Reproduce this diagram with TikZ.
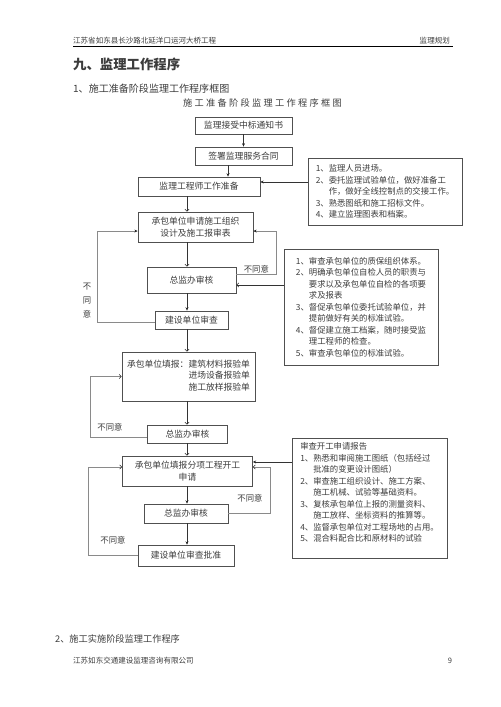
\documentclass[tikz,border=0pt]{standalone}
\usepackage{fontspec}
\setmainfont{Noto Sans CJK SC}
\usetikzlibrary{arrows.meta}
\definecolor{boxgray}{HTML}{505050}
\definecolor{loopgray}{HTML}{8A8A8A}
\definecolor{txtgray}{HTML}{3C3C3C}
\newcommand{\boxfont}{\fontsize{10.5}{13.8}\selectfont}
\newcommand{\notefont}{\fontsize{10}{13.8}\selectfont}
\begin{document}
\begin{tikzpicture}[x=0.042cm, y=-0.042cm, text=txtgray,
  box/.style={draw=boxgray, line width=0.8pt, inner sep=1pt, align=center, font=\boxfont},
  notebox/.style={box, align=left, font=\notefont},
  arr/.style={draw=black!80, line width=0.7pt, -{Stealth[length=4pt,width=3.5pt,color=black!85]}},
  oarr/.style={draw=black!80, line width=0.7pt, -{Straight Barb[length=2.5pt,width=5pt,color=black!85]}},
  back/.style={draw=loopgray},
  lbl/.style={font=\fontsize{10}{11}\selectfont, inner sep=1pt},
  plain/.style={inner sep=0pt, anchor=west}]
\useasboundingbox (0,0) rectangle (500,707);
% header
\node[plain, font=\fontsize{9}{10}\selectfont] (head) at (73,41) {江苏省如东县长沙路北延洋口运河大桥工程};
\node[plain, anchor=east, font=\fontsize{9}{10}\selectfont] (plan) at (450,41) {监理规划};
\draw[line width=0.6pt] (73,46) -- (453,46);
\node[plain, font=\fontsize{16}{18}\selectfont\bfseries] (sec) at (73,64) {九、监理工作程序};
\node[plain, font=\fontsize{12}{14}\selectfont] (sub1) at (73,89) {1、施工准备阶段监理工作程序框图};
\node[inner sep=0pt, font=\fontsize{11}{12}\selectfont\addfontfeature{LetterSpace=25}] (title) at (262.5,103) {施工准备阶段监理工作程序框图};
% arrow columns
\coordinate (axis) at (187,0);
\coordinate (col2) at (228,0);
% main column
\node[box, minimum width=4.07cm, minimum height=0.71cm] (notice) at (243.5,125.5) {监理接受中标通知书};
\node[box, minimum width=4.07cm, minimum height=0.76cm] (contract) at (243.5,156) {签署监理服务合同};
\node[box, minimum width=5.12cm, minimum height=0.80cm] (prep) at (199,186.5) {监理工程师工作准备};
\node[box, minimum width=4.83cm, minimum height=1.26cm] (design) at (195.5,227) {承包单位申请施工组织\\设计及施工报审表};
\node[box, minimum width=3.74cm, minimum height=1.09cm] (rev1) at (191.5,280) {总监办审核};
\node[box, minimum width=3.07cm, minimum height=0.76cm] (owner1) at (191.5,320) {建设单位审查};
\node[box, minimum width=5.59cm, minimum height=2.06cm] (forms) at (188.5,376.5) {\begin{tabular}{@{}l@{}l@{}}承包单位填报：&建筑材料报验单\\&进场设备报验单\\&施工放样报验单\end{tabular}};
\node[box, minimum width=3.36cm, minimum height=0.76cm] (rev2) at (187.5,434) {总监办审核};
\node[box, minimum width=5.46cm, minimum height=1.26cm] (start) at (187.5,471) {承包单位填报分项工程开工\\申请};
\node[box, minimum width=3.53cm, minimum height=0.80cm] (rev3) at (186,513.5) {总监办审核};
\node[box, minimum width=4.03cm, minimum height=0.88cm] (owner2) at (186,555.5) {建设单位审查批准};
% notes
\node[notebox, minimum width=6.47cm, minimum height=2.81cm] (noteA) at (385,191.5) {1、监理人员进场。\\2、委托监理试验单位，做好准备工\\\phantom{2、}作，做好全线控制点的交接工作。\\3、熟悉图纸和施工招标文件。\\4、建立监理图表和档案。};
\node[notebox, minimum width=6.47cm, minimum height=4.87cm] (noteB) at (361,307) {1、审查承包单位的质保组织体系。\\2、明确承包单位自检人员的职责与\\\phantom{2、}要求以及承包单位自检的各项要\\\phantom{2、}求及报表\\3、督促承包单位委托试验单位，并\\\phantom{3、}提前做好有关的标准试验。\\4、督促建立施工档案，随时接受监\\\phantom{4、}理工程师的检查。\\5、审查承包单位的标准试验。};
\node[notebox, minimum width=6.51cm, minimum height=5.04cm] (noteC) at (369.5,498) {审查开工申请报告\\1、熟悉和审阅施工图纸（包括经过\\\phantom{1、}批准的变更设计图纸）\\2、审查施工组织设计、施工方案、\\\phantom{2、}施工机械、试验等基础资料。\\3、复核承包单位上报的测量资料、\\\phantom{3、}施工放样、坐标资料的推算等。\\4、监督承包单位对工程场地的占用。\\5、混合料配合比和原材料的试验\\\mbox{}};
% main flow
\draw[arr] (notice) -- (contract);
\draw[arr] (contract.south -| col2) -- (prep.north -| col2);
\draw[oarr] (prep.south -| axis) -- (design.north -| axis);
\draw[oarr] (design.south -| axis) -- (rev1.north -| axis);
\draw[arr] (rev1.south -| axis) -- (owner1.north -| axis);
\draw[oarr] (owner1.south -| axis) -- (forms.north -| axis);
\draw[oarr] (forms.south -| axis) -- (rev2.north -| axis);
\draw[oarr] (rev2.south -| axis) -- (start.north -| axis);
\draw[arr] (start.south -| axis) -- (rev3.north -| axis);
\draw[arr] (rev3.south -| axis) -- (owner2.north -| axis);
% notes to boxes
\draw[arr] ([yshift=0.19cm]prep.east -| noteA.west) -- ([yshift=0.19cm]prep.east);
\draw[oarr] ([yshift=-0.21cm]rev1.east -| noteB.west) -- ([yshift=-0.21cm]rev1.east);
\draw[arr] ([yshift=0.38cm]start.east -| noteC.west) -- ([yshift=0.38cm]start.east);
% not agreed
\draw[arr, back] ([yshift=-0.08cm]owner1.west) -- ++(-57,0) |- ([yshift=-0.17cm]design.west);
\node[lbl, align=center, font=\fontsize{10}{16.7}\selectfont] (no1) at (87,301) {不\\同\\意};
\draw[arr, back] ([yshift=0.25cm]rev1.east) -- ++(40,0) node[lbl, above, midway] (no2) {不同意} |- ([yshift=-0.17cm]design.east);
\draw[oarr, back] ([yshift=-0.13cm]rev2.west) -- ++(-57,0) |- (forms.west);
\node[lbl] (no3) at (110,427) {不同意};
\draw[oarr, back] (rev3.east) -- ++(42,0) |- ([yshift=0.17cm]start.east);
\node[lbl] (no4) at (250,498) {不同意};
\draw[oarr, back] (owner2.west) -- ++(-49,0) |- ([yshift=0.17cm]start.west);
\node[lbl] (no5) at (113,540) {不同意};
% footer
\node[plain, font=\fontsize{11}{12}\selectfont] (sub2) at (55,639) {2、施工实施阶段监理工作程序};
\node[plain, font=\fontsize{9}{10}\selectfont] (firm) at (73,661) {江苏如东交通建设监理咨询有限公司};
\node[font=\fontsize{9}{10}\selectfont] (page) at (450,661) {9};
\end{tikzpicture}
\end{document}
